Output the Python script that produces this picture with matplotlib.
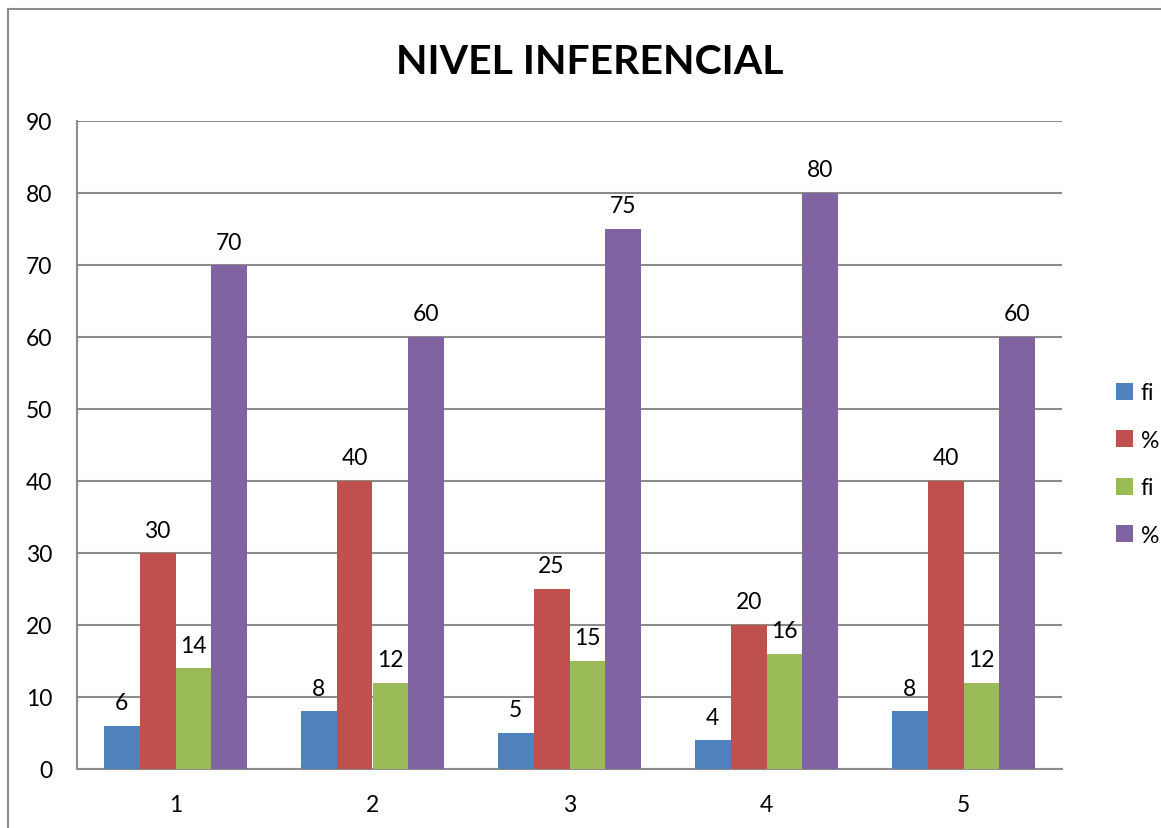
import matplotlib
matplotlib.use("Agg")
import matplotlib.pyplot as plt
import numpy as np
from matplotlib.patches import Patch
from matplotlib.lines import Line2D

categories = ["1", "2", "3", "4", "5"]
series_names = ["fi", "%", "fi", "%"]
fi1 = [6, 8, 5, 4, 8]
pct1 = [30, 40, 25, 20, 40]
fi2 = [14, 12, 15, 16, 12]
pct2 = [70, 60, 75, 80, 60]
colors = ["#4F81BD", "#C0504D", "#9BBB59", "#8064A2"]
yticks = [0, 10, 20, 30, 40, 50, 60, 70, 80, 90]

plt.rcParams['font.family'] = ['Lato', 'DejaVu Sans']

W, H = 1161, 829
fig = plt.figure(figsize=(W/100, H/100), dpi=100)
ax = fig.add_axes([77/W, 1-770/H, (1062-77)/W, (770-122)/H])

x = np.arange(len(categories))
bw = 1/5.5
allseries = [fi1, pct1, fi2, pct2]
for i, (vals, c, name) in enumerate(zip(allseries, colors, series_names)):
    pos = x + (i - 1.5) * bw
    ax.bar(pos, vals, width=bw, color=c, label=name, zorder=3)
    for p, v in zip(pos, vals):
        ax.annotate(str(v), (p, v), xytext=(0, 9), textcoords='offset points',
                    ha='center', va='bottom', fontsize=16.5, color='black')

ax.set_xlim(-0.5, len(categories) - 0.5)
ax.set_ylim(0, 90)
ax.set_yticks(yticks)
ax.set_xticks(x)
ax.set_xticklabels(categories)
ax.tick_params(axis='both', labelsize=16.5, length=0, colors='black')
ax.tick_params(axis='y', pad=18)
ax.tick_params(axis='x', pad=18)
ax.yaxis.grid(True, color='#8C8C8C', linewidth=1.5, zorder=0)
ax.set_axisbelow(True)
for s in ['top', 'right']:
    ax.spines[s].set_visible(False)
for s in ['left', 'bottom']:
    ax.spines[s].set_color('#8C8C8C')
    ax.spines[s].set_linewidth(1.5)

fig.text(590/W, 1-62/H, "NIVEL INFERENCIAL", ha='center', va='center',
         fontsize=29.5, fontweight='bold')

handles = [Patch(facecolor=c, label=n) for c, n in zip(colors, series_names)]
fig.legend(handles=handles, loc='center left', bbox_to_anchor=(1095/W, 1-465/H),
           frameon=False, fontsize=16.5, handlelength=0.75, handleheight=0.75,
           handletextpad=0.35, labelspacing=1.15)

fig.add_artist(Line2D([8/W, 8/W], [0, 1-10/H], color='#8C8C8C', linewidth=1.5))
fig.add_artist(Line2D([8/W, 1], [1-10/H, 1-10/H], color='#8C8C8C', linewidth=1.5))

fig.savefig("out.png", dpi=100)
